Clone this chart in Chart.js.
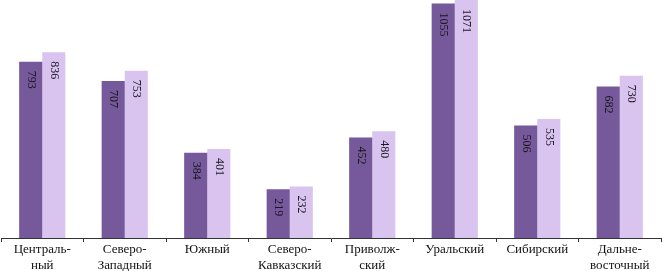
<!DOCTYPE html>
<html>
<head>
<meta charset="utf-8">
<script src="https://cdn.jsdelivr.net/npm/chart.js@4"></script>
<style>
  html, body { margin: 0; padding: 0; background: #fff; }
  #wrap { width: 662px; height: 271px; position: relative; }
</style>
</head>
<body>
<div id="wrap"><canvas id="regionChart"></canvas></div>
<script>
// Data
const regions = [
    ['Централь-', 'ный'],
    ['Северо-', 'Западный'],
    'Южный',
    ['Северо-', 'Кавказский'],
    ['Приволж-', 'ский'],
    'Уральский',
    'Сибирский',
    ['Дальне-', 'восточный']
];
const seriesA = [793, 707, 384, 219, 452, 1055, 506, 682];
const seriesB = [836, 753, 401, 232, 480, 1071, 535, 730];

const darkColor = '#75599a';
const lightColor = '#d9c3ef';

// draws the value inside each bar, rotated to read top to bottom
const barValues = {
    id: 'barValues',
    afterDatasetsDraw(chart) {
        const c = chart.ctx;
        c.save();
        c.font = '12px "Liberation Serif", serif';
        c.fillStyle = '#1a1720';
        c.textAlign = 'left';
        c.textBaseline = 'middle';
        chart.data.datasets.forEach((ds, i) => {
            chart.getDatasetMeta(i).data.forEach((bar, j) => {
                c.save();
                c.translate(bar.x, bar.y + 9);
                c.rotate(Math.PI / 2);
                c.fillText(String(ds.data[j]), 0, 0);
                c.restore();
            });
        });
        c.restore();
    }
};

const ctx = document.getElementById('regionChart').getContext('2d');
new Chart(ctx, {
    type: 'bar',
    data: {
        labels: regions,
        datasets: [
            { data: seriesA, backgroundColor: darkColor },
            { data: seriesB, backgroundColor: lightColor }
        ]
    },
    options: {
        responsive: true,
        maintainAspectRatio: false,
        animation: false,
        layout: { padding: { left: 1, right: 1, top: 0, bottom: 0 } },
        plugins: { legend: { display: false }, tooltip: { enabled: false } },
        datasets: { bar: { barPercentage: 1, categoryPercentage: 0.56 } },
        scales: {
            x: {
                offset: true,
                grid: { display: true, drawOnChartArea: false, offset: true, tickLength: 4, color: '#333' },
                border: { display: true, color: '#333', width: 1 },
                ticks: {
                    color: '#111',
                    font: { family: '"Liberation Serif", serif', size: 13, lineHeight: 1.2 },
                    padding: 0,
                    maxRotation: 0,
                    autoSkip: false
                },
                afterFit(scale) { scale.height = 33; }
            },
            y: {
                display: false,
                min: 0,
                max: 1071
            }
        }
    },
    plugins: [barValues]
});
</script>
</body>
</html>
